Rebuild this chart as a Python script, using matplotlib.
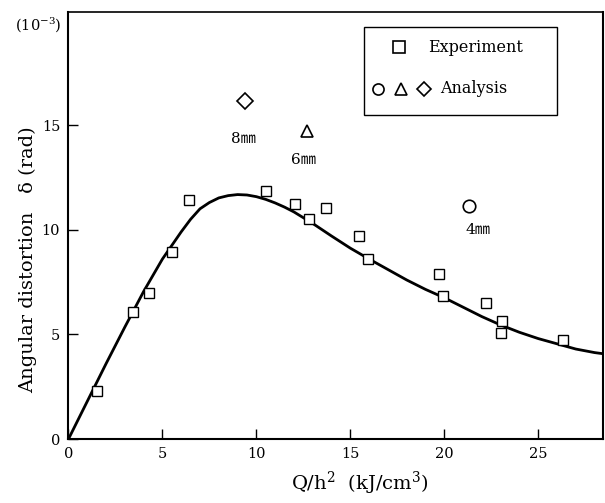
import matplotlib

matplotlib.use("Agg")

import matplotlib.pyplot as plt
from matplotlib.patches import Rectangle

plt.rcParams["font.family"] = ["DejaVu Serif", "Noto Sans CJK JP"]
plt.rcParams["mathtext.fontset"] = "dejavuserif"

# experiment points (Q/h^2 in kJ/cm^3, delta in 1e-3 rad)
exp_x = [1.5, 3.45, 4.3, 5.5, 6.4, 10.5, 12.05, 12.8, 13.7, 15.45, 15.95,
         19.7, 19.95, 22.2, 23.1, 23.0, 26.3]
exp_y = [2.3, 6.05, 7.0, 8.95, 11.4, 11.85, 11.25, 10.5, 11.05, 9.7, 8.6,
         7.9, 6.85, 6.5, 5.65, 5.07, 4.75]

# fitted curve
curve_x = [0, 1, 2, 3, 4, 5, 5.5, 6, 6.5, 7, 7.5, 8, 8.5, 9, 9.5, 10, 10.5, 11,
           11.5, 12, 13, 14, 15, 16, 17, 18, 19, 20, 21, 22, 23, 24, 25, 26,
           27, 28, 28.5]
curve_y = [0, 1.8, 3.6, 5.35, 7.05, 8.6, 9.25, 9.9, 10.5, 11.0, 11.3, 11.52,
           11.63, 11.68, 11.66, 11.58, 11.45, 11.28, 11.08, 10.85, 10.3, 9.7,
           9.12, 8.6, 8.1, 7.6, 7.15, 6.75, 6.3, 5.85, 5.45, 5.1, 4.8, 4.55,
           4.3, 4.13, 4.07]

# analysis points
ana_x = [21.3, 12.7, 9.4]
ana_y = [11.15, 14.7, 16.15]
ana_markers = ["o", "^", "D"]
ana_labels = ["4㎜", "6㎜", "8㎜"]
ana_label_x = [21.8, 12.5, 9.3]
ana_label_y = [10.0, 13.35, 14.35]

fig = plt.figure(figsize=(6.05, 5.03), dpi=100)
ax = fig.add_axes([0.1132, 0.1272, 0.8835, 0.8488])

ax.plot(curve_x, curve_y, color="black", linewidth=2.0, zorder=2)
ax.plot(exp_x, exp_y, linestyle="none", marker="s", markersize=6.5,
        markerfacecolor="white", markeredgecolor="black", markeredgewidth=1.0, zorder=3)

sizes = {"o": 9, "^": 9, "D": 8}
for x, y, m in zip(ana_x, ana_y, ana_markers):
    ax.plot([x], [y], linestyle="none", marker=m, markersize=sizes[m],
            markerfacecolor="white", markeredgecolor="black", markeredgewidth=1.2)
for x, y, lab in zip(ana_label_x, ana_label_y, ana_labels):
    ax.text(x, y, lab, fontsize=11, ha="center", va="center")

ax.set_xlim(0, 28.45)
ax.set_ylim(0, 20.4)
ax.set_xticks([0, 5, 10, 15, 20, 25])
ax.set_yticks([0, 5, 10, 15])
ax.tick_params(direction="in", length=7, width=1.0, labelsize=10.5, pad=6)
for side in ["left", "bottom", "right"]:
    ax.spines[side].set_linewidth(1.5)
ax.spines["top"].set_linewidth(1.2)

# axis titles placed where the reference has them
fig.text(360 / 605, 1 - 483 / 503, "Q/h$^2$  (kJ/cm$^3$)", fontsize=14,
         ha="center", va="center")
fig.text(28 / 605, 1 - 260 / 503, "Angular distortion   δ (rad)", fontsize=14,
         rotation=90, ha="center", va="center")
ax.text(-0.012, 0.97, "(10$^{-3}$)", transform=ax.transAxes, fontsize=10.5,
        ha="right", va="center")

# legend box drawn by hand
ax.add_patch(Rectangle((0.553, 0.759), 0.361, 0.206, transform=ax.transAxes,
                       facecolor="white", edgecolor="black", linewidth=1.0, zorder=4))
ax.plot([0.618], [0.918], transform=ax.transAxes, marker="s", markersize=9,
        markerfacecolor="white", markeredgecolor="black", markeredgewidth=1.2,
        linestyle="none", zorder=5, clip_on=False)
ax.text(0.672, 0.918, "Experiment", transform=ax.transAxes, fontsize=11.5,
        ha="left", va="center", zorder=5)
for xa, m in zip([0.579, 0.622, 0.665], ["o", "^", "D"]):
    ax.plot([xa], [0.82], transform=ax.transAxes, marker=m, markersize=sizes[m] - 1,
            markerfacecolor="white", markeredgecolor="black", markeredgewidth=1.2,
            linestyle="none", zorder=5, clip_on=False)
ax.text(0.695, 0.82, "Analysis", transform=ax.transAxes, fontsize=11.5,
        ha="left", va="center", zorder=5)

fig.savefig("out.png", dpi=100)
